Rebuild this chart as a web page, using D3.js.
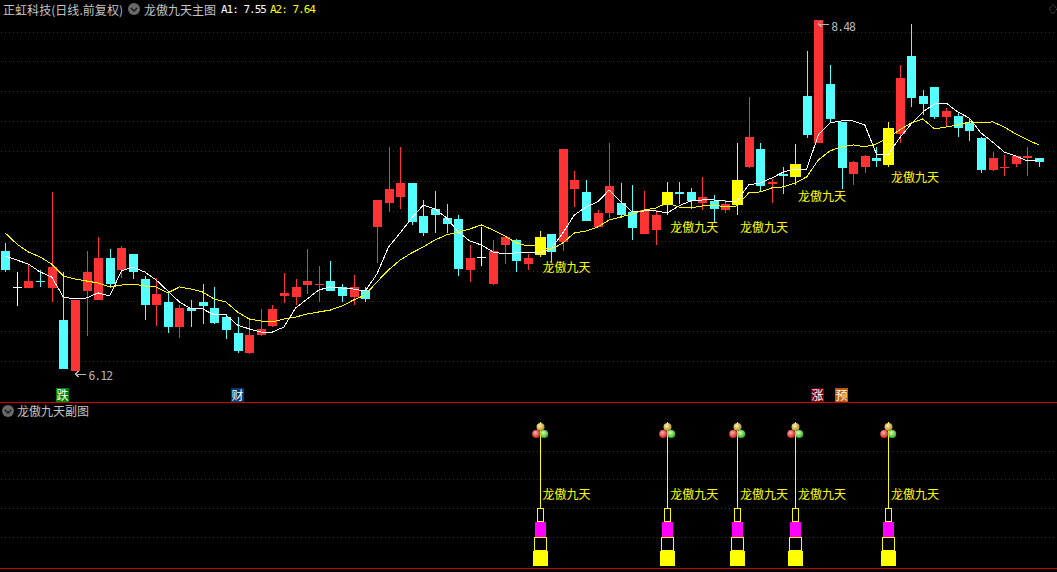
<!DOCTYPE html>
<html><head><meta charset="utf-8">
<script src="https://cdnjs.cloudflare.com/ajax/libs/d3/7.8.5/d3.min.js"></script>
<style>
html,body{margin:0;padding:0;background:#000;overflow:hidden}
svg{display:block}
text{font-family:"Noto Sans CJK SC","DejaVu Sans",sans-serif}
.num{font-family:"DejaVu Sans Mono",monospace;letter-spacing:-1px}
</style></head><body><div id="c"></div>
<script>
// r = up, c = down, y = signal day, w = flat day
const kinds="c w r c r c r r r c r c c r c r c c c c c r r r r r r r c c r c r r r c c c c c r w r r c r y c r r c r r c c r r y c c r c r y r c r c y c r c c r r c y r c c c r c c c r r r r c".split(" ");
const bodyTop=[6.927,6.685,6.725,6.725,6.819,6.463,6.598,6.786,6.880,6.880,6.947,6.907,6.739,6.638,6.584,6.544,6.544,6.584,6.544,6.483,6.376,6.362,6.403,6.537,6.645,6.685,6.725,6.705,6.725,6.685,6.685,6.665,7.270,7.344,7.384,7.384,7.162,7.210,7.149,7.142,6.880,6.887,6.927,7.021,7.001,6.880,7.021,7.041,7.613,7.405,7.324,7.183,7.364,7.250,7.189,7.203,7.169,7.324,7.324,7.324,7.290,7.263,7.243,7.405,7.694,7.613,7.391,7.445,7.512,7.969,8.480,8.050,7.795,7.526,7.566,7.552,7.754,8.090,8.238,7.969,8.030,7.868,7.835,7.788,7.687,7.552,7.492,7.566,7.566,7.552];
const bodyBottom=[6.799,6.685,6.678,6.725,6.678,6.134,6.120,6.658,6.598,6.705,6.799,6.786,6.564,6.564,6.416,6.416,6.523,6.557,6.443,6.396,6.254,6.241,6.362,6.423,6.625,6.618,6.698,6.698,6.658,6.625,6.618,6.604,7.088,7.250,7.290,7.122,7.048,7.169,7.108,6.806,6.799,6.887,6.705,6.967,6.859,6.839,6.900,6.920,6.988,7.344,7.129,7.088,7.183,7.169,7.082,7.041,7.068,7.236,7.310,7.263,7.250,7.210,7.203,7.236,7.492,7.364,7.378,7.431,7.425,7.707,7.653,7.815,7.485,7.445,7.492,7.532,7.505,7.714,7.956,7.915,7.828,7.828,7.754,7.734,7.472,7.472,7.492,7.512,7.552,7.526];
const highs=[6.981,6.786,6.839,6.799,7.324,6.786,6.598,6.927,7.021,6.941,6.961,6.907,6.759,6.745,6.645,6.564,6.598,6.705,6.685,6.503,6.483,6.470,6.537,6.564,6.779,6.739,6.941,6.826,6.859,6.705,6.765,6.685,7.270,7.627,7.627,7.384,7.270,7.331,7.243,7.169,6.967,7.088,7.001,7.028,7.008,6.907,7.061,7.041,7.613,7.465,7.405,7.203,7.653,7.384,7.371,7.331,7.203,7.391,7.391,7.351,7.425,7.304,7.270,7.653,7.963,7.653,7.411,7.492,7.647,8.272,8.480,8.178,7.795,7.532,7.573,7.627,7.795,8.178,8.454,8.010,8.030,7.889,7.855,7.815,7.694,7.593,7.573,7.566,7.627,7.552];
const lows=[6.786,6.557,6.678,6.685,6.584,6.134,6.120,6.356,6.598,6.678,6.745,6.739,6.463,6.423,6.376,6.342,6.416,6.436,6.436,6.335,6.241,6.234,6.356,6.416,6.577,6.564,6.638,6.584,6.658,6.584,6.564,6.584,6.846,7.189,7.210,7.102,7.028,7.048,7.048,6.759,6.719,6.826,6.698,6.839,6.786,6.799,6.887,6.853,6.927,7.223,7.129,7.088,7.149,7.149,7.001,7.041,6.967,7.169,7.243,7.210,7.203,7.122,7.183,7.169,7.485,7.331,7.250,7.310,7.371,7.687,7.653,7.795,7.344,7.371,7.452,7.492,7.492,7.653,7.896,7.842,7.815,7.768,7.694,7.667,7.452,7.465,7.431,7.492,7.431,7.492];
const a1=[6.893,6.866,6.839,6.786,6.752,6.618,6.604,6.611,6.645,6.625,6.792,6.819,6.786,6.732,6.658,6.584,6.537,6.537,6.497,6.497,6.429,6.403,6.382,6.382,6.416,6.544,6.604,6.665,6.685,6.678,6.671,6.658,6.772,6.954,7.048,7.149,7.236,7.210,7.149,7.055,6.994,6.967,6.920,6.907,6.914,6.914,6.914,6.941,7.048,7.169,7.223,7.257,7.337,7.257,7.189,7.196,7.196,7.183,7.230,7.263,7.270,7.270,7.263,7.263,7.371,7.384,7.418,7.458,7.478,7.478,7.707,7.788,7.801,7.801,7.774,7.579,7.573,7.687,7.781,7.862,7.915,7.922,7.862,7.821,7.721,7.660,7.593,7.566,7.532,7.54];
const a2=[7.048,6.974,6.920,6.887,6.839,6.759,6.739,6.725,6.712,6.685,6.698,6.705,6.692,6.685,6.645,6.685,6.671,6.651,6.604,6.584,6.517,6.470,6.456,6.450,6.470,6.483,6.503,6.517,6.530,6.557,6.598,6.631,6.719,6.799,6.866,6.914,6.954,7.001,7.035,7.055,7.075,7.102,7.068,7.028,6.981,6.961,6.961,6.934,6.981,7.048,7.061,7.088,7.135,7.156,7.176,7.203,7.216,7.250,7.223,7.216,7.230,7.236,7.223,7.230,7.317,7.324,7.351,7.358,7.384,7.425,7.539,7.600,7.627,7.640,7.627,7.647,7.687,7.741,7.788,7.815,7.748,7.761,7.774,7.795,7.788,7.795,7.761,7.714,7.674,7.64];
const gridPrices=[8.393,8.198,7.996,7.795,7.593,7.391,7.189,6.988,6.786,6.584,6.382,6.181];
const signalDays=[46,57,63,68,76];
const signalLabelPrices=[6.819,7.088,7.088,7.290,7.418];
const signalName="龙傲九天";
const subGrid=[7.92,5.99,4.0,2.0];
const tierFrom=[0,1,2,3];
const tierTo=[1,2,3,4];
const stemTop=9.3;
const subLabelLevel=4.94;
const badges=[{day:5,t:"跌"},{day:20,t:"财"},{day:70,t:"涨"},{day:72,t:"预"}];
const badgeFill={"跌":"#008000","财":"#003a70","涨":"#7a0000","预":"#b85a10"};

const W=1057,H=572;
const svg=d3.select("#c").append("svg").attr("width",W).attr("height",H).style("background","#000");
const x=d3.scaleLinear().domain([0,89]).range([5.2,1039]);
const y=d3.scaleLinear().domain([6.12,8.48]).range([371,20]);
const sy=d3.scaleLinear().domain([0,9.3]).range([566,431]);
const X=i=>Math.round(x(i));
const Y=p=>Math.round(y(p));
const col={r:"#ff3333",c:"#54ffff",y:"#ffff00",w:"#ffffff"};
const crisp=s=>s.attr("shape-rendering","crispEdges");
const defs=svg.append("defs");

// dotted grid as a repeating one-pixel pattern
const pat=defs.append("pattern").attr("id","dots").attr("patternUnits","userSpaceOnUse").attr("width",4).attr("height",572);
crisp(pat.append("rect").attr("x",1).attr("y",0).attr("width",1).attr("height",572).attr("fill","#a80000"));
crisp(svg.append("g").selectAll("rect").data(gridPrices).join("rect")
 .attr("x",0).attr("width",W).attr("y",d=>Y(d)-1).attr("height",1).attr("fill","url(#dots)"));
crisp(svg.append("g").selectAll("rect").data(subGrid).join("rect")
 .attr("x",0).attr("width",W).attr("y",d=>Math.round(sy(d))).attr("height",1).attr("fill","url(#dots)"));
// panel separators
crisp(svg.append("rect").attr("x",0).attr("y",402).attr("width",W).attr("height",1).attr("fill","#d00000"));
crisp(svg.append("rect").attr("x",0).attr("y",568).attr("width",W).attr("height",1).attr("fill","#d00000"));

// candles
const days=d3.range(kinds.length);
const g=svg.append("g");
crisp(g.selectAll("line").data(days).join("line")
 .attr("x1",i=>X(i)+.5).attr("x2",i=>X(i)+.5)
 .attr("y1",i=>Y(highs[i])).attr("y2",i=>Y(lows[i]))
 .attr("stroke",i=>col[kinds[i]]));
crisp(g.selectAll("rect").data(days).join("rect")
 .attr("x",i=>X(i)-(kinds[i]==="y"?5:4))
 .attr("width",i=>kinds[i]==="y"?11:9)
 .attr("y",i=>Y(bodyTop[i]))
 .attr("height",i=>Math.max(1,Y(bodyBottom[i])-Y(bodyTop[i])))
 .attr("fill",i=>col[kinds[i]]));

// average lines
const line=d3.line().x((d,i)=>x(i)).y(d=>y(d));
[[a1,"#ffffff"],[a2,"#ffff00"]].forEach(([s,c])=>{
 crisp(svg.append("path").attr("d",line(s)).attr("fill","none").attr("stroke",c).attr("stroke-width",1));
});

// signal labels main
svg.append("g").selectAll("text").data(signalDays).join("text")
 .attr("x",d=>x(d)+3).attr("y",(d,i)=>y(signalLabelPrices[i])+4.5)
 .attr("fill","#ffff00").attr("font-size",12).text(signalName);

// high / low notes
const gray="#b4b4b4";
function note(day,price,tailDy,textDy,dx,label){
 const px=x(day)+dx, py=y(price);
 const a=svg.append("g").attr("stroke",gray).attr("fill","none").attr("stroke-width",1);
 crisp(a.append("path").attr("d",`M${px+11},${py+tailDy}L${px},${py+(tailDy>2?tailDy:tailDy-2)}M${px+3},${py+(tailDy>2?tailDy:tailDy-2)-3}L${px},${py+(tailDy>2?tailDy:tailDy-2)}L${px+3},${py+(tailDy>2?tailDy:tailDy-2)+3}`));
 svg.append("text").attr("class","num").attr("x",px+13).attr("y",py+textDy+4.5).attr("fill",gray).attr("font-size",11.5).text(label);
}
note(6,6.12,3,4,0.5,"6.12");
note(70,8.48,4,6,0,"8.48");

// badges
const bg=svg.append("g").selectAll("g").data(badges).join("g");
crisp(bg.append("rect").attr("x",d=>X(d.day)-7).attr("y",388).attr("width",13).attr("height",14).attr("fill",d=>badgeFill[d.t]));
bg.append("text").attr("x",d=>X(d.day)-.5).attr("y",399.5).attr("text-anchor","middle").attr("fill","#fff").attr("font-size",12).text(d=>d.t);

// sub panel
[["gold","#fff2b0","#b08a20"],["red","#ffb0a8","#d02020"],["green","#d8ffb0","#30b020"]].forEach(([id,a,b])=>{
 const r=defs.append("radialGradient").attr("id",id).attr("cx","40%").attr("cy","35%").attr("r","65%");
 r.append("stop").attr("offset","0%").attr("stop-color",a);
 r.append("stop").attr("offset","100%").attr("stop-color",b);
});
const tierW=[15,13,11,7];
signalDays.forEach(d=>{
 const cx=X(d)+.5;
 const s=svg.append("g");
 crisp(s.append("line").attr("x1",cx).attr("x2",cx).attr("y1",sy(stemTop)).attr("y2",sy(tierTo[3])).attr("stroke","#ffff00"));
 tierFrom.forEach((f,i)=>{
  const w=tierW[i], top=Math.round(sy(tierTo[i])), bot=Math.round(sy(f));
  const solid=i===0||i===2;
  crisp(s.append("rect").attr("x",cx-w/2+(solid?0:.5)).attr("y",solid?top:top+.5).attr("width",w-(solid?0:1)).attr("height",solid?bot-top:bot-top-1)
   .attr("fill",i===0?"#ffff00":i===2?"#ff00ff":"none").attr("stroke",solid?"none":"#ffff00"));
 });
 const cyTop=sy(stemTop)-4;
 [[0,0,"gold"],[-4.3,7,"red"],[3.7,7,"green"]].forEach(([dx,dy,id])=>{
  s.append("circle").attr("cx",cx+dx).attr("cy",cyTop+dy).attr("r",4).attr("fill",`url(#${id})`);
 });
 crisp(s.append("line").attr("x1",cx).attr("x2",cx).attr("y1",cyTop-5).attr("y2",cyTop-3).attr("stroke","#ffff00"));
});
svg.append("g").selectAll("text").data(signalDays).join("text")
 .attr("x",d=>x(d)+3).attr("y",sy(subLabelLevel)+4.5)
 .attr("fill","#ffff00").attr("font-size",12).text(signalName);

// header
const hg="#c4c4c4";
function chevron(cx,cy){
 svg.append("circle").attr("cx",cx).attr("cy",cy).attr("r",6).attr("fill","#686868");
 svg.append("path").attr("d",`M${cx-3},${cy-1}L${cx},${cy+2}L${cx+3},${cy-1}`).attr("stroke","#1a1a1a").attr("stroke-width",1.4).attr("fill","none");
}
svg.append("text").attr("x",3).attr("y",14.5).attr("fill",hg).attr("font-size",12).attr("textLength",120).text("正虹科技(日线.前复权)");
chevron(134,9);
svg.append("text").attr("x",144).attr("y",14.5).attr("fill",hg).attr("font-size",12).text("龙傲九天主图");
svg.append("text").attr("class","num").attr("x",221).attr("y",13).attr("fill","#ffffff").attr("font-size",11).text("A1: 7.55");
svg.append("text").attr("class","num").attr("x",270).attr("y",13).attr("fill","#ffff00").attr("font-size",11).text("A2: 7.64");
chevron(8,411);
svg.append("text").attr("x",17).attr("y",415.5).attr("fill",hg).attr("font-size",12).text("龙傲九天副图");
// corner toggle
svg.append("path").attr("d","M1053,4.5L1057,9L1053,14L1049,9Z").attr("fill","none").attr("stroke","#666").attr("stroke-dasharray","1 1");
</script></body></html>
